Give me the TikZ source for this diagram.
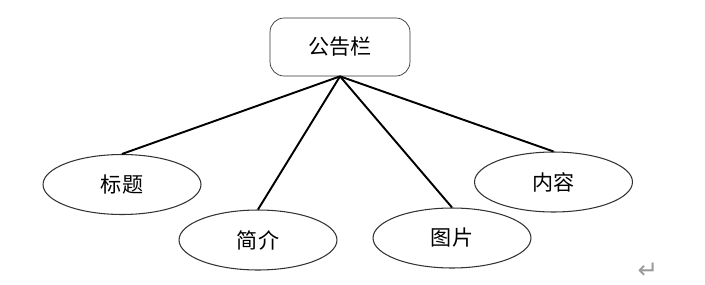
\documentclass[tikz,border=0pt]{standalone}
\usepackage{fontspec}
\newfontfamily\cjk{Noto Sans CJK SC}
\newfontfamily\symfont{DejaVu Sans}
\usetikzlibrary{shapes.geometric, positioning}
\definecolor{boxline}{HTML}{333333}
\definecolor{markgray}{HTML}{9A9A9A}
\tikzset{
  % scatola in alto
  topbox/.style={draw=boxline, rounded corners=8pt, minimum height=1.16cm,
    minimum width=2.8cm, align=center, fill=white, font=\cjk\fontsize{12}{14}\selectfont},
  % ellisse delle voci
  item/.style={ellipse, draw=boxline, line width=0.6pt, minimum height=1.2cm,
    minimum width=3.16cm, inner sep=0pt, fill=white, font=\cjk\fontsize{12}{14}\selectfont},
  % collegamenti
  link/.style={line width=1.1pt, black},
}
\begin{document}
\begin{tikzpicture}[x=0.02cm, y=-0.02cm]
  \useasboundingbox (0,0) rectangle (705,284);
  \node[topbox] (board) at (340,47) {公告栏};
  \node[item] (title) at (122,184.5) {标题};
  \node[item] (intro) at (258,240) {简介};
  \node[item] (pic) at (452,238) {图片};
  \node[item] (content) at (553.5,182) {内容};
  \foreach \n in {title, intro, pic, content}
    \draw[link] (board.south) -- (\n.north);
  \node[text=markgray, font=\symfont\fontsize{14}{15}\selectfont] (mark) at (648,271) {↵};
\end{tikzpicture}
\end{document}
